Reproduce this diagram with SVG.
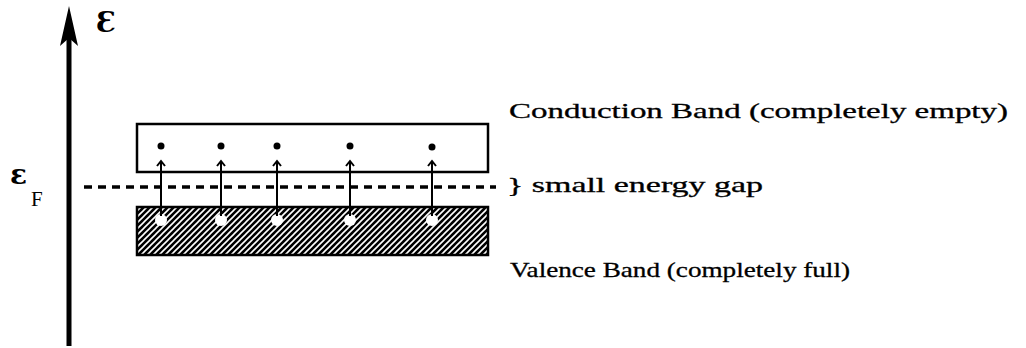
<svg xmlns="http://www.w3.org/2000/svg" width="1026" height="348" viewBox="0 0 1026 348">
<style>
.lbl{font-family:"Liberation Serif","DejaVu Serif",serif;font-size:21px;fill:#000;stroke:#000;stroke-width:0.3}
.sym{font-family:"DejaVu Serif","Liberation Serif",serif;fill:#000}
.band{stroke:#000;stroke-width:2.5}
.dot{fill:#000}
.hole{fill:#fff}
.up{stroke:#000;stroke-width:2;fill:none}
</style>
<defs>
<pattern id="hatch" width="6" height="6" patternUnits="userSpaceOnUse">
<rect width="6" height="6" fill="#000"/>
<path d="M-1,1 L1,-1 M0,6 L6,0 M5,7 L7,5" stroke="#fff" stroke-width="1.6"/>
</pattern>
<marker id="ah" markerWidth="8" markerHeight="10" refX="6" refY="5" orient="auto" markerUnits="userSpaceOnUse" viewBox="0 0 8 10">
<path d="M1,1 L6,5 L1,9" fill="none" stroke="#000" stroke-width="2"/>
</marker>
</defs>
<g id="axis">
<line x1="69" y1="30" x2="69" y2="346" stroke="#000" stroke-width="5"/>
<polygon points="69,6 78,46 69,38 60,46" fill="#000"/>
<text class="sym" x="96" y="32" font-size="28" font-weight="bold">Ɛ</text>
</g>
<g id="fermi-label">
<text class="sym" x="10" y="184" font-size="28" font-weight="bold">ε</text>
<text class="lbl" x="31" y="206" font-size="25" style="stroke-width:0">F</text>
</g>
<g id="conduction-band">
<rect class="band" x="137" y="124" width="351" height="48" fill="#fff"/>
<circle class="dot" cx="161" cy="146" r="3.5"/>
<circle class="dot" cx="221" cy="146" r="3.5"/>
<circle class="dot" cx="277" cy="146" r="3.5"/>
<circle class="dot" cx="350" cy="146" r="3.5"/>
<circle class="dot" cx="432" cy="147" r="3.5"/>
</g>
<g id="valence-band">
<rect class="band" x="137" y="207" width="351" height="48" fill="url(#hatch)"/>
<circle class="hole" cx="161" cy="220" r="6"/>
<circle class="hole" cx="221" cy="220" r="6"/>
<circle class="hole" cx="277" cy="220" r="6"/>
<circle class="hole" cx="350" cy="220" r="6"/>
<circle class="hole" cx="432" cy="220" r="6"/>
</g>
<g id="fermi-level">
<line x1="84" y1="187" x2="496" y2="187" stroke="#000" stroke-width="3.5" stroke-dasharray="8,6"/>
</g>
<g id="connectors">
<line class="up" x1="161" y1="216" x2="161" y2="161" marker-end="url(#ah)"/>
<line class="up" x1="221" y1="216" x2="221" y2="161" marker-end="url(#ah)"/>
<line class="up" x1="277" y1="216" x2="277" y2="161" marker-end="url(#ah)"/>
<line class="up" x1="350" y1="216" x2="350" y2="161" marker-end="url(#ah)"/>
<line class="up" x1="432" y1="216" x2="432" y2="161" marker-end="url(#ah)"/>
</g>
<g id="labels">
<text class="lbl" x="509" y="118" textLength="499" lengthAdjust="spacingAndGlyphs">Conduction Band (completely empty)</text>
<text class="lbl" x="507" y="192" textLength="256" lengthAdjust="spacingAndGlyphs">} small energy gap</text>
<text class="lbl" x="510" y="277" textLength="340" lengthAdjust="spacingAndGlyphs">Valence Band (completely full)</text>
</g>
</svg>
